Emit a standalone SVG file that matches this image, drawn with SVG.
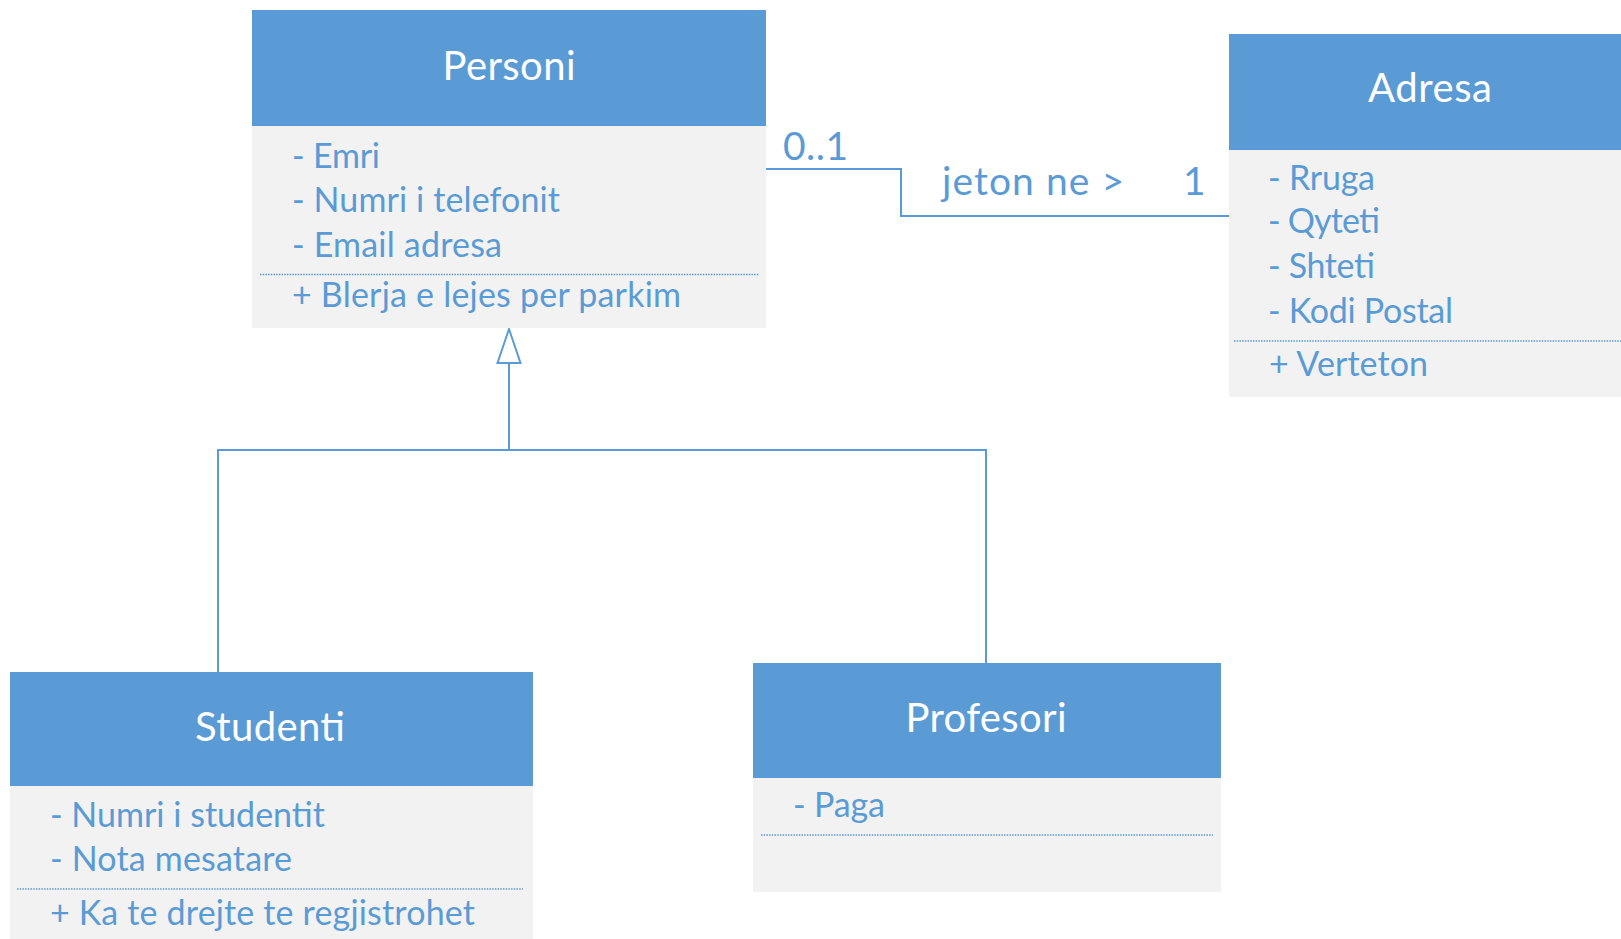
<svg xmlns="http://www.w3.org/2000/svg" width="1621" height="939" viewBox="0 0 1621 939">
  <style>
    text { font-family: Lato, "Open Sans", "Liberation Sans", sans-serif; }
    .hdr { fill: #5B9BD5; }
    .body { fill: #F2F2F2; }
    .title { fill: #FFFFFF; font-size: 40px; text-anchor: middle; }
    .item { fill: #5B9BD5; font-size: 34px; }
    .lbl { fill: #5B9BD5; font-size: 39px; }
    .sep { stroke: #5B9BD5; stroke-width: 1.5; stroke-dasharray: 1.5 1.2; fill: none; }
    .conn { stroke: #5B9BD5; stroke-width: 2; fill: none; }
  </style>
  <rect x="0" y="0" width="1621" height="939" fill="#FFFFFF"/>

  <!-- connectors -->
  <g id="connectors">
    <!-- association Personi - Adresa -->
    <polyline class="conn" points="766,169 901,169 901,216 1229,216"/>
    <text class="lbl" x="783" y="160" textLength="65">0..1</text>
    <text class="lbl" x="942" y="195" textLength="182">jeton ne &gt;</text>
    <text class="lbl" x="1183" y="195">1</text>
    <!-- generalization Studenti / Profesori to Personi -->
    <polyline class="conn" points="218,672 218,450 986,450 986,663"/>
    <line class="conn" x1="509" y1="450" x2="509" y2="363"/>
    <polygon points="509,329 497.5,363 520.5,363" fill="#FFFFFF" stroke="#5B9BD5" stroke-width="2" stroke-linejoin="miter"/>
  </g>

  <g id="personi">
    <rect class="body" x="252" y="126" width="514" height="202"/>
    <rect class="hdr" x="252" y="10" width="514" height="116"/>
    <text class="title" x="509" y="80" textLength="133">Personi</text>
    <text class="item" x="292" y="168" textLength="88">- Emri</text>
    <text class="item" x="292" y="212" textLength="268">- Numri i telefonit</text>
    <text class="item" x="292" y="257" textLength="210">- Email adresa</text>
    <line class="sep" x1="260" y1="274.5" x2="759" y2="274.5"/>
    <text class="item" x="292" y="307" textLength="389">+ Blerja e lejes per parkim</text>
  </g>

  <g id="adresa">
    <rect class="body" x="1229" y="150" width="402" height="247"/>
    <rect class="hdr" x="1229" y="34" width="402" height="116"/>
    <text class="title" x="1430" y="102" textLength="124">Adresa</text>
    <text class="item" x="1268" y="190" textLength="107">- Rruga</text>
    <text class="item" x="1268" y="233" textLength="112">- Qyteti</text>
    <text class="item" x="1268" y="278" textLength="107">- Shteti</text>
    <text class="item" x="1268" y="323" textLength="185">- Kodi Postal</text>
    <line class="sep" x1="1234" y1="341" x2="1621" y2="341"/>
    <text class="item" x="1269" y="376" textLength="159">+ Verteton</text>
  </g>

  <g id="studenti">
    <rect class="body" x="10" y="786" width="523" height="160"/>
    <rect class="hdr" x="10" y="672" width="523" height="114"/>
    <text class="title" x="270" y="741" textLength="150">Studenti</text>
    <text class="item" x="50" y="827" textLength="275">- Numri i studentit</text>
    <text class="item" x="50" y="871" textLength="242">- Nota mesatare</text>
    <line class="sep" x1="17" y1="889" x2="523" y2="889"/>
    <text class="item" x="50" y="925" textLength="425">+ Ka te drejte te regjistrohet</text>
  </g>

  <g id="profesori">
    <rect class="body" x="753" y="778" width="468" height="114"/>
    <rect class="hdr" x="753" y="663" width="468" height="115"/>
    <text class="title" x="986" y="732" textLength="161">Profesori</text>
    <text class="item" x="793" y="817" textLength="92">- Paga</text>
    <line class="sep" x1="761" y1="835" x2="1213" y2="835"/>
  </g>
</svg>
